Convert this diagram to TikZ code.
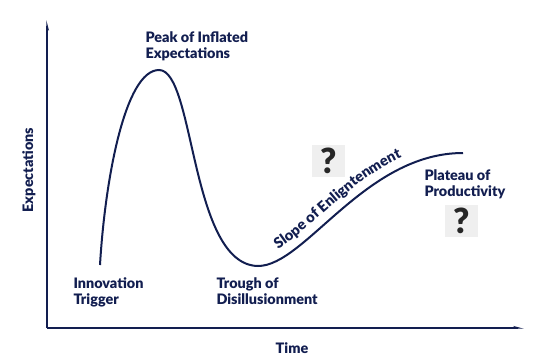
\documentclass[tikz,border=0pt]{standalone}
\usepackage{fontspec}
\setmainfont{Lato}[BoldFont={Lato Black}]
\usetikzlibrary{arrows.meta,decorations.text}

\definecolor{hcnavy}{RGB}{18,30,80}
\definecolor{qgray}{RGB}{239,239,239}
\definecolor{qmark}{RGB}{38,38,38}

\tikzset{every picture/.style={line width=0.75pt}}
\tikzset{
  phase/.style={anchor=north west, inner sep=0.75pt, align=left, text=hcnavy, font=\fontsize{10.8}{12.2}\selectfont\bfseries},
  qbox/.style={fill=qgray, minimum width=24.75pt, minimum height=24pt, inner sep=0pt, text=qmark, font=\fontsize{26}{26}\selectfont\bfseries},
  axisline/.style={draw=hcnavy, line width=1.5pt},
}

\begin{document}
\begin{tikzpicture}[x=0.75pt,y=0.75pt,yscale=-1,xscale=1]
\useasboundingbox (0,0) rectangle (557,361);

%Axes
\coordinate (origin) at (47,328);
\coordinate (ytop) at (47,20);
\coordinate (xend) at (524,328);
\draw [axisline, -{Stealth[harpoon,swap,length=6pt,width=3pt]}] (origin) -- (ytop);
\draw [axisline, -{Stealth[harpoon,length=6pt,width=3pt]}] (origin) -- (xend);

%Hype curve
\draw [draw=hcnavy, line width=1.5pt] (100,265) .. controls (105,180) and (125,70) .. (159,70) .. controls (195,70) and (190,265) .. (258,266) .. controls (305,266) and (365,153) .. (463,153) ;

%Slope label along the curve
\path [decorate, decoration={text along path, text align={left indent=21pt}, text={|\fontsize{11}{13}\selectfont\bfseries\color{hcnavy}|Slope of Enligntenment}}] (252,258) .. controls (300,258) and (360,145) .. (458,145) ;

% Text Node
\draw (144,30) node [phase] (peak) {Peak of Inflated\\Expectations};
% Text Node
\draw (72,276) node [phase] (trigger) {Innovation\\Trigger};
% Text Node
\draw (215,276) node [phase] (trough) {Trough of\\Disillusionment};
% Text Node
\draw (423,168) node [phase] (plateau) {Plateau of\\Productivity};
% Text Node
\draw (29,170) node [rotate=90, inner sep=0.75pt, text=hcnavy, font=\fontsize{10.8}{12}\selectfont\bfseries] (ylabel) {Expectations};
% Text Node
\draw (292,353) node [anchor=base, inner sep=0.75pt, text=hcnavy, font=\fontsize{10.8}{12}\selectfont\bfseries] (xlabel) {Time};

%Question marks
\draw (328.5,161) node [qbox] (qslope) {?};
\draw (461.5,221) node [qbox] (qplateau) {?};

\end{tikzpicture}
\end{document}
